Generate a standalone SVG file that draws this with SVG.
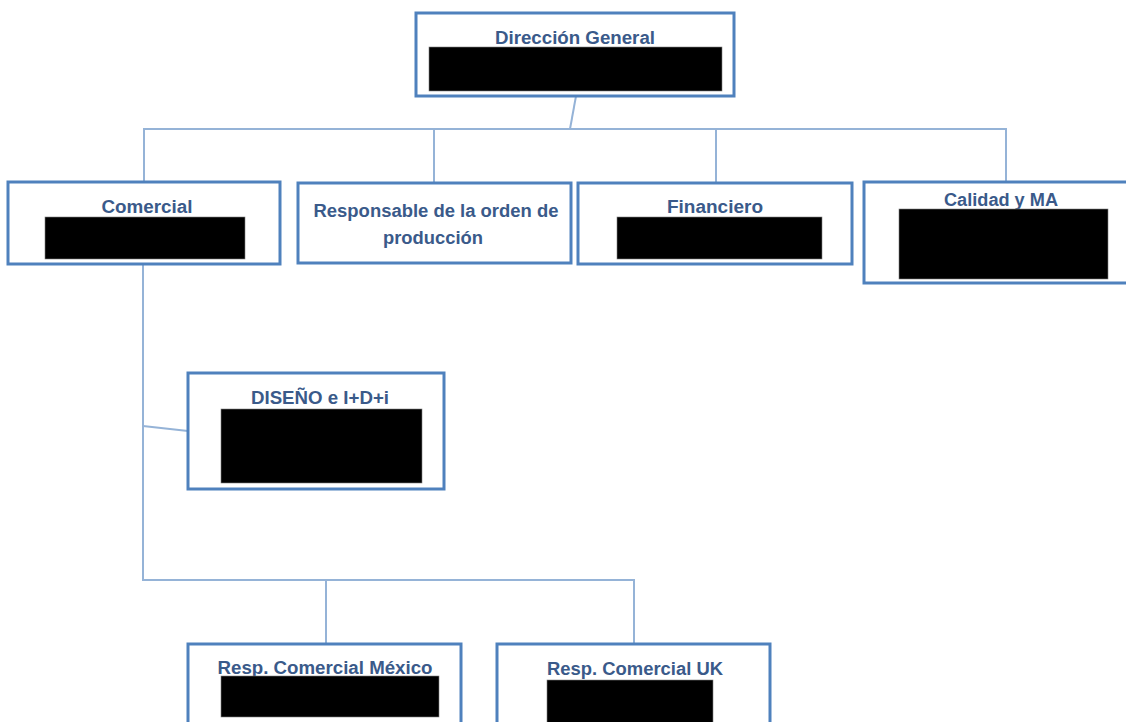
<svg xmlns="http://www.w3.org/2000/svg" width="1126" height="722" viewBox="0 0 1126 722">
  <style>
    .box { fill: #ffffff; stroke: #4f81bd; stroke-width: 3; }
    .mask { fill: #000000; stroke: #7f7f7f; stroke-width: 0.6; }
    .lbl { font-family: "Liberation Sans", Arial, sans-serif; font-weight: bold; font-size: 18px; fill: #3a5a8a; text-anchor: middle; }
    .conn { fill: none; stroke: #95b3d7; stroke-width: 2; }
  </style>
  <rect width="1126" height="722" fill="#ffffff"/>

  <!-- connectors -->
  <g id="connectors">
    <path class="conn" d="M576 96 L570 129"/>
    <path class="conn" d="M144 182 V129 H1006 V182"/>
    <path class="conn" d="M434 129 V182"/>
    <path class="conn" d="M716 129 V182"/>
    <path class="conn" d="M143 264 V580 H634 V644"/>
    <path class="conn" d="M326 580 V644"/>
    <path class="conn" d="M143 426 L188 431"/>
  </g>

  <g id="node-direccion">
    <rect class="box" x="416" y="13" width="318" height="83"/>
    <text class="lbl" x="575" y="44" textLength="160" lengthAdjust="spacingAndGlyphs">Dirección General</text>
    <rect class="mask" x="429" y="47" width="293" height="44"/>
  </g>

  <g id="node-comercial">
    <rect class="box" x="8" y="182" width="272" height="82"/>
    <text class="lbl" x="147" y="213" textLength="91" lengthAdjust="spacingAndGlyphs">Comercial</text>
    <rect class="mask" x="45" y="217" width="200" height="42"/>
  </g>

  <g id="node-responsable">
    <rect class="box" x="298" y="183" width="273" height="80"/>
    <text class="lbl" x="436" y="217" textLength="245" lengthAdjust="spacingAndGlyphs">Responsable de la orden de</text>
    <text class="lbl" x="433" y="244" textLength="100" lengthAdjust="spacingAndGlyphs">producción</text>
  </g>

  <g id="node-financiero">
    <rect class="box" x="578" y="183" width="274" height="81"/>
    <text class="lbl" x="715" y="213" textLength="96" lengthAdjust="spacingAndGlyphs">Financiero</text>
    <rect class="mask" x="617" y="217" width="205" height="42"/>
  </g>

  <g id="node-calidad">
    <rect class="box" x="864" y="182" width="290" height="101"/>
    <text class="lbl" x="1001" y="206" textLength="114" lengthAdjust="spacingAndGlyphs">Calidad y MA</text>
    <rect class="mask" x="899" y="209" width="209" height="70"/>
  </g>

  <g id="node-diseno">
    <rect class="box" x="188" y="373" width="256" height="116"/>
    <text class="lbl" x="320" y="404" textLength="138" lengthAdjust="spacingAndGlyphs">DISEÑO e I+D+i</text>
    <rect class="mask" x="221" y="409" width="201" height="74"/>
  </g>

  <g id="node-mexico">
    <rect class="box" x="188" y="644" width="273" height="100"/>
    <text class="lbl" x="325" y="674" textLength="215" lengthAdjust="spacingAndGlyphs">Resp. Comercial México</text>
    <rect class="mask" x="221" y="676" width="218" height="41"/>
  </g>

  <g id="node-uk">
    <rect class="box" x="497" y="644" width="273" height="100"/>
    <text class="lbl" x="635" y="675" textLength="176" lengthAdjust="spacingAndGlyphs">Resp. Comercial UK</text>
    <rect class="mask" x="547" y="680" width="166" height="50"/>
  </g>
</svg>
